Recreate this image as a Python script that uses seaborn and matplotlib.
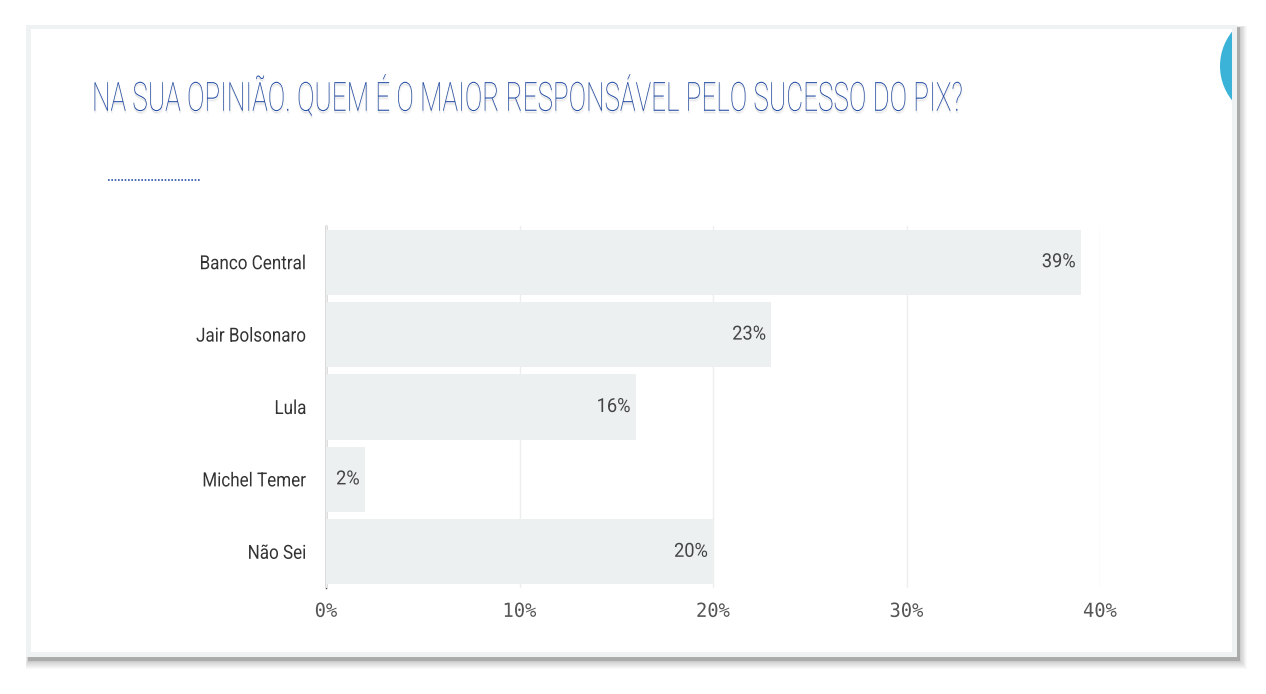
import matplotlib
matplotlib.use("Agg")
import matplotlib.pyplot as plt
import matplotlib.patheffects as pe
import matplotlib.colors as mcolors
from matplotlib.patches import Rectangle, Circle
from matplotlib.transforms import Affine2D
import seaborn as sns
import pandas as pd

categories = ["Banco Central", "Jair Bolsonaro", "Lula", "Michel Temer", "Não Sei"]
values = [39, 23, 16, 2, 20]
xticks = [0, 10, 20, 30, 40]
xtick_labels = ["0%", "10%", "20%", "30%", "40%"]
title = "NA SUA OPINIÃO. QUEM É O MAIOR RESPONSÁVEL PELO SUCESSO DO PIX?"

sns.set_theme(style="white")
FONT = ["Roboto", "DejaVu Sans"]
plt.rcParams["font.family"] = FONT


class Condense(pe.AbstractPathEffect):
    """Rescale a text around its anchor point (horizontal sx, vertical sy)."""

    def __init__(self, text, sx, sy=1.0, shadow=None):
        super().__init__()
        self.text = text
        self.sx = sx
        self.sy = sy
        self.shadow = shadow

    def draw_path(self, renderer, gc, tpath, affine, rgbFace=None):
        x0, y0 = self.text.get_transform().transform(self.text.get_position())
        sq = affine + Affine2D().translate(-x0, -y0).scale(self.sx, self.sy).translate(x0, y0)
        if self.shadow is not None:
            col = mcolors.to_rgb(self.shadow[0])
            for dx, dy, a in [(0, -2, self.shadow[1]), (1, -3, self.shadow[1] * 0.5)]:
                gc0 = renderer.new_gc()
                gc0.copy_properties(gc)
                gc0.set_foreground(col)
                gc0.set_alpha(a)
                renderer.draw_path(gc0, tpath, sq + Affine2D().translate(dx, dy), col)
                gc0.restore()
        renderer.draw_path(gc, tpath, sq, rgbFace)


W, H = 1266, 694
fig = plt.figure(figsize=(W / 100, H / 100), dpi=100)
fig.patch.set_facecolor("white")

ax_bg = fig.add_axes([0, 0, 1, 1], zorder=0)
ax_bg.set_xlim(0, W)
ax_bg.set_ylim(H, 0)
ax_bg.axis("off")

# slide shadow: soft blur, heavier to bottom-right
for g in range(10, 0, -1):
    ax_bg.add_patch(Rectangle((26 - g * 0.25 + 2, 25 - g * 0.25 + 3), 1211 + g * 1.0, 632 + g * 1.1,
                              facecolor="#666666", alpha=0.04, edgecolor="none"))
ax_bg.add_patch(Rectangle((28, 27), 1212, 634, facecolor="#777777", alpha=0.35, edgecolor="none"))
# slide with light border
ax_bg.add_patch(Rectangle((26, 25), 1211, 632, facecolor="#eef2f2", edgecolor="none"))
ax_bg.add_patch(Rectangle((31, 29), 1201, 623, facecolor="white", edgecolor="none"))
# blue half circle clipped by slide edge
circ = Circle((1275, 66), 55, facecolor="#3BB3D8", edgecolor="none")
ax_bg.add_patch(circ)
circ.set_clip_path(Rectangle((26, 25), 1206, 632, transform=ax_bg.transData))
# dotted line under title
ax_bg.plot([108, 200], [180, 180], color="#2a52a8", linestyle=(0, (1, 1)), linewidth=1.2)

# title
t_title = fig.text(92 / W, 1 - 98 / H, title, fontsize=29, color="#1f48a0", ha="left",
                   va="center", fontweight="light")

# chart axes
left, right = 326, 1100
top, bottom = 226, 588
ax = fig.add_axes([left / W, 1 - bottom / H, (right - left) / W, (bottom - top) / H], zorder=2)
ax.patch.set_alpha(0)

df = pd.DataFrame({"cat": categories, "val": values})
sns.barplot(data=df, x="val", y="cat", orient="h", color="#ecf0f0", saturation=1,
            width=0.9, ax=ax, zorder=3)
for p in ax.patches:
    p.set_edgecolor("none")

ax.set_xlim(0, 40)
ax.set_ylim(4.5, -0.5)
ax.set_xticks(xticks)
ax.set_xticklabels(xtick_labels)
ax.set_xlabel("")
ax.set_ylabel("")
ax.grid(axis="x", color="#eeeeee", linewidth=1, zorder=0)
ax.set_axisbelow(True)
for s in ["top", "right", "bottom"]:
    ax.spines[s].set_visible(False)
ax.spines["left"].set_color("#444444")
ax.spines["left"].set_linewidth(1)
ax.spines["left"].set_zorder(0)
ax.tick_params(axis="y", length=0, pad=14, labelsize=14, labelcolor="#333333")
ax.tick_params(axis="x", length=0, pad=10, labelsize=14, labelcolor="#555555")
for lbl in ax.get_xticklabels():
    lbl.set_family(["DejaVu Sans Mono"])
    lbl.set_fontweight("light")

vtexts = []
for i, v in enumerate(values):
    vtexts.append(ax.text(v - 0.25, i, f"{v}%", ha="right", va="center", fontsize=14,
                          color="#444444", zorder=5))

# measure natural widths and rescale texts to the reference widths
fig.canvas.draw()
r = fig.canvas.get_renderer()

def width(t):
    return t.get_window_extent(r).width

# title: shrink the font until it fits, then stretch it vertically
fs0 = 29
fs1 = fs0 * 870 / width(t_title)
t_title.set_fontsize(fs1)
fig.canvas.draw()
sx_title = 870 / width(t_title)
t_title.set_path_effects([Condense(t_title, sx_title, fs0 / fs1, shadow=("#aaaaaa", 0.3))])

ylbls = ax.get_yticklabels()
sx_y = 107 / width(ylbls[0])
for lbl in ylbls:
    lbl.set_path_effects([Condense(lbl, sx_y)])

xlbls = ax.get_xticklabels()
sx_x = 34 / width(xlbls[-1])
for lbl in xlbls:
    lbl.set_path_effects([Condense(lbl, sx_x)])

sx_v = 34 / width(vtexts[0])
for t in vtexts:
    t.set_path_effects([Condense(t, sx_v)])

fig.savefig("out.png", dpi=100, facecolor="white")
